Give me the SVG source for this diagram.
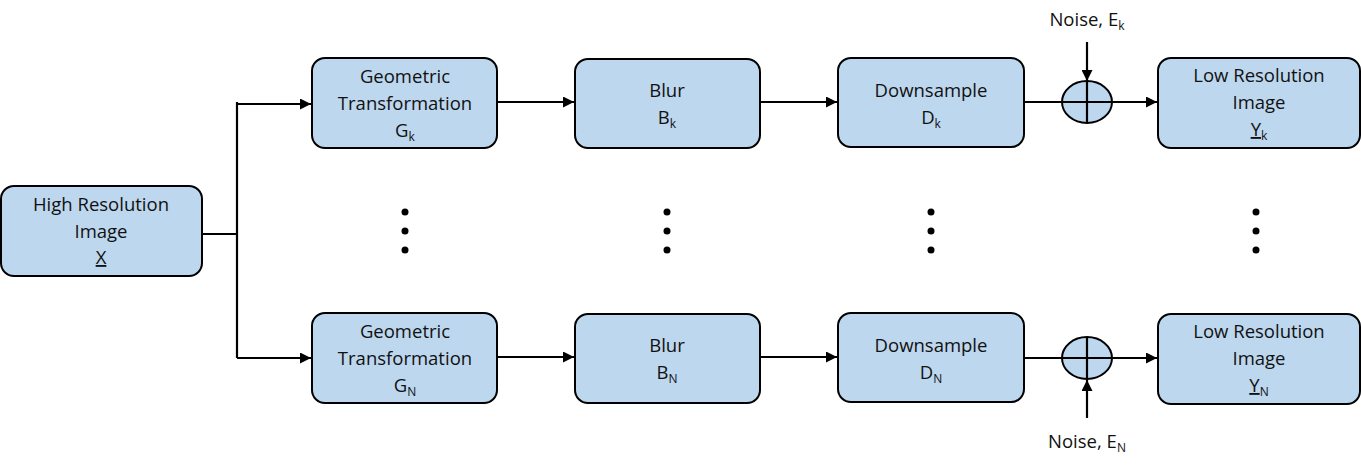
<svg xmlns="http://www.w3.org/2000/svg" width="1361" height="469" viewBox="0 0 1361 469">
<defs>
<marker id="ah" viewBox="0 0 10 10" refX="10" refY="5" markerWidth="5.5" markerHeight="5" orient="auto" markerUnits="strokeWidth"><path d="M0,0 L10,5 L0,10 z" fill="#000"/></marker>
<style>
.box{fill:#BDD7EE;stroke:#000;stroke-width:2}
.t{font-family:"Open Sans","Liberation Sans",sans-serif;font-size:18.5px;fill:#111;text-anchor:middle}
.s{font-size:12px}
.c{stroke:#000;stroke-width:2.2;fill:none}
.d{fill:#000}
</style>
</defs>
<g id="connectors">
<path class="c" d="M202,234 H237 M237,102 V358"/>
<path class="c" d="M237,104 H311" marker-end="url(#ah)"/>
<path class="c" d="M237,358 H311" marker-end="url(#ah)"/>
<path class="c" d="M497,102 H574" marker-end="url(#ah)"/>
<path class="c" d="M497,357 H574" marker-end="url(#ah)"/>
<path class="c" d="M760,102 H837" marker-end="url(#ah)"/>
<path class="c" d="M760,357 H837" marker-end="url(#ah)"/>
<path class="c" d="M1024,102 H1062"/>
<path class="c" d="M1112,102 H1157" marker-end="url(#ah)"/>
<path class="c" d="M1024,358 H1062"/>
<path class="c" d="M1112,358 H1157" marker-end="url(#ah)"/>
<path class="c" d="M1087,42 V81" marker-end="url(#ah)"/>
<path class="c" d="M1087,418 V380" marker-end="url(#ah)"/>
</g>
<g id="hr"><rect class="box" x="1" y="186" width="201" height="90" rx="13"/>
<text class="t" x="101" y="211">High Resolution</text><text class="t" x="101" y="238">Image</text><text class="t" x="101" y="264" text-decoration="underline">X</text></g>
<g id="gk"><rect class="box" x="312" y="58" width="185" height="90" rx="13"/>
<text class="t" x="405" y="83">Geometric</text><text class="t" x="405" y="110">Transformation</text><text class="t" x="405" y="137">G<tspan class="s" dy="4">k</tspan></text></g>
<g id="bk"><rect class="box" x="575" y="59" width="185" height="89" rx="13"/>
<text class="t" x="667" y="97">Blur</text><text class="t" x="667" y="124">B<tspan class="s" dy="4">k</tspan></text></g>
<g id="dk"><rect class="box" x="838" y="58" width="186" height="89" rx="13"/>
<text class="t" x="931" y="97">Downsample</text><text class="t" x="931" y="124">D<tspan class="s" dy="4">k</tspan></text></g>
<g id="sk"><ellipse class="box" cx="1087" cy="102" rx="25" ry="21"/><path class="c" d="M1062,102 H1112 M1087,81 V123"/></g>
<g id="nk"><text class="t" x="1087" y="26">Noise, E<tspan class="s" dy="4">k</tspan></text></g>
<g id="yk"><rect class="box" x="1158" y="58" width="202" height="90" rx="13"/>
<text class="t" x="1259" y="82">Low Resolution</text><text class="t" x="1259" y="109">Image</text><text class="t" x="1259" y="136"><tspan text-decoration="underline">Y</tspan><tspan class="s" dy="4">k</tspan></text></g>
<g id="gn"><rect class="box" x="312" y="313" width="185" height="90" rx="13"/>
<text class="t" x="405" y="338">Geometric</text><text class="t" x="405" y="365">Transformation</text><text class="t" x="405" y="392">G<tspan class="s" dy="4">N</tspan></text></g>
<g id="bn"><rect class="box" x="575" y="314" width="185" height="89" rx="13"/>
<text class="t" x="667" y="352">Blur</text><text class="t" x="667" y="379">B<tspan class="s" dy="4">N</tspan></text></g>
<g id="dn"><rect class="box" x="838" y="313" width="186" height="89" rx="13"/>
<text class="t" x="931" y="352">Downsample</text><text class="t" x="931" y="379">D<tspan class="s" dy="4">N</tspan></text></g>
<g id="sn"><ellipse class="box" cx="1087" cy="358" rx="25" ry="21"/><path class="c" d="M1062,358 H1112 M1087,337 V379"/></g>
<g id="nn"><text class="t" x="1087" y="448">Noise, E<tspan class="s" dy="4">N</tspan></text></g>
<g id="yn"><rect class="box" x="1158" y="314" width="202" height="90" rx="13"/>
<text class="t" x="1259" y="338">Low Resolution</text><text class="t" x="1259" y="365">Image</text><text class="t" x="1259" y="392"><tspan text-decoration="underline">Y</tspan><tspan class="s" dy="4">N</tspan></text></g>
<g id="dots">
<circle class="d" cx="405" cy="212" r="3.5"/><circle class="d" cx="405" cy="231" r="3.5"/><circle class="d" cx="405" cy="250" r="3.5"/>
<circle class="d" cx="667" cy="212" r="3.5"/><circle class="d" cx="667" cy="231" r="3.5"/><circle class="d" cx="667" cy="250" r="3.5"/>
<circle class="d" cx="931" cy="212" r="3.5"/><circle class="d" cx="931" cy="231" r="3.5"/><circle class="d" cx="931" cy="250" r="3.5"/>
<circle class="d" cx="1256" cy="212" r="3.5"/><circle class="d" cx="1256" cy="231" r="3.5"/><circle class="d" cx="1256" cy="250" r="3.5"/>
</g>
</svg>
